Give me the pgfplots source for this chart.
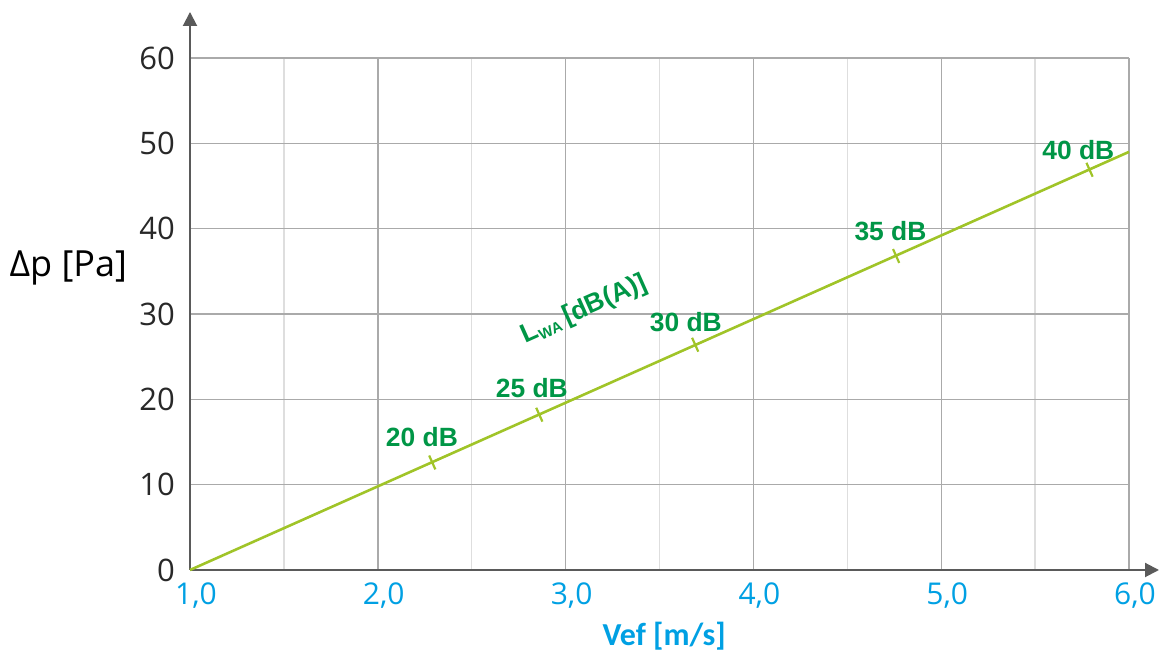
\documentclass[border=0pt]{standalone}
\usepackage{fontspec}
\setmainfont{Open Sans}
\newfontfamily\labfont{Liberation Sans}
\newfontfamily\xlabfont{Carlito}
\usepackage{pgfplots}
\pgfplotsset{compat=1.18}
\usetikzlibrary{arrows.meta}
\definecolor{lineg}{RGB}{160,196,40}
\definecolor{txtg}{RGB}{0,150,70}
\definecolor{xblue}{RGB}{0,160,227}
\definecolor{axgray}{RGB}{90,90,90}
\begin{document}
\begin{tikzpicture}
\begin{axis}[
name=ax,
scale only axis,
width=469.5pt, height=256pt,
xmin=1, xmax=6, ymin=0, ymax=60,
axis lines=left,
axis line style={axgray, line width=1pt},
x axis line style={-{Triangle[length=7pt,width=7pt]}, shorten >=-15pt},
y axis line style={-{Triangle[length=7pt,width=7pt]}, shorten >=-23pt},
xtick={1,2,...,6}, minor xtick={1.5,2.5,...,5.5},
ytick={0,10,...,60},
major tick length=0pt, minor tick length=0pt,
grid=both,
major grid style={draw={rgb,255:red,170;green,170;blue,170}, line width=0.7pt},
minor grid style={draw={rgb,255:red,222;green,222;blue,222}, line width=0.7pt},
xticklabel style={/pgf/number format/fixed, /pgf/number format/fixed zerofill, /pgf/number format/precision=1, /pgf/number format/use comma, text=xblue, font=\fontsize{15}{17}\selectfont, yshift=-3pt, xshift=3pt},
yticklabel style={text={rgb,255:red,40;green,40;blue,40}, font=\fontsize{15.5}{17}\selectfont, xshift=-4pt},
/pgf/number format/assume math mode=true,
xlabel={Vef [m/s]},
xlabel style={font=\xlabfont\bfseries\fontsize{16}{18}\selectfont, text=xblue, at={(rel axis cs:0.505,0)}, anchor=center, yshift=-33pt},
clip=false,
]
\addplot[lineg, line width=1.3pt] coordinates {(1,0) (6,49.0)};
\addplot[only marks, mark=|, mark size=3.8pt, mark options={lineg, line width=1.1pt, rotate=24}] coordinates {
  (2.29,12.6) (2.86,18.2) (3.69,26.4) (4.76,36.8) (5.79,46.9)
};
\begin{scope}[every node/.style={font=\labfont\bfseries\fontsize{13.2}{15}\selectfont, text=txtg}]
\node at (axis cs:2.235,15.6) {20 dB};
\node at (axis cs:2.82,21.3) {25 dB};
\node at (axis cs:3.64,29.1) {30 dB};
\node at (axis cs:4.73,39.7) {35 dB};
\node at (axis cs:5.73,49.2) {40 dB};
\node[rotate=24] at (axis cs:3.10,30.5) {L\textsubscript{\fontsize{7.5}{8}\selectfont WA}\,[dB(A)]};
\end{scope}
\node[anchor=east, font=\fontsize{18}{20}\selectfont, text=black] at ([xshift=-28pt]rel axis cs:0,0.59) {Δp [Pa]};
\end{axis}
\pgfresetboundingbox
\path[use as bounding box] ([xshift=-95pt,yshift=-43pt]ax.south west) rectangle ([xshift=21pt,yshift=29pt]ax.north east);
\end{tikzpicture}
\end{document}
